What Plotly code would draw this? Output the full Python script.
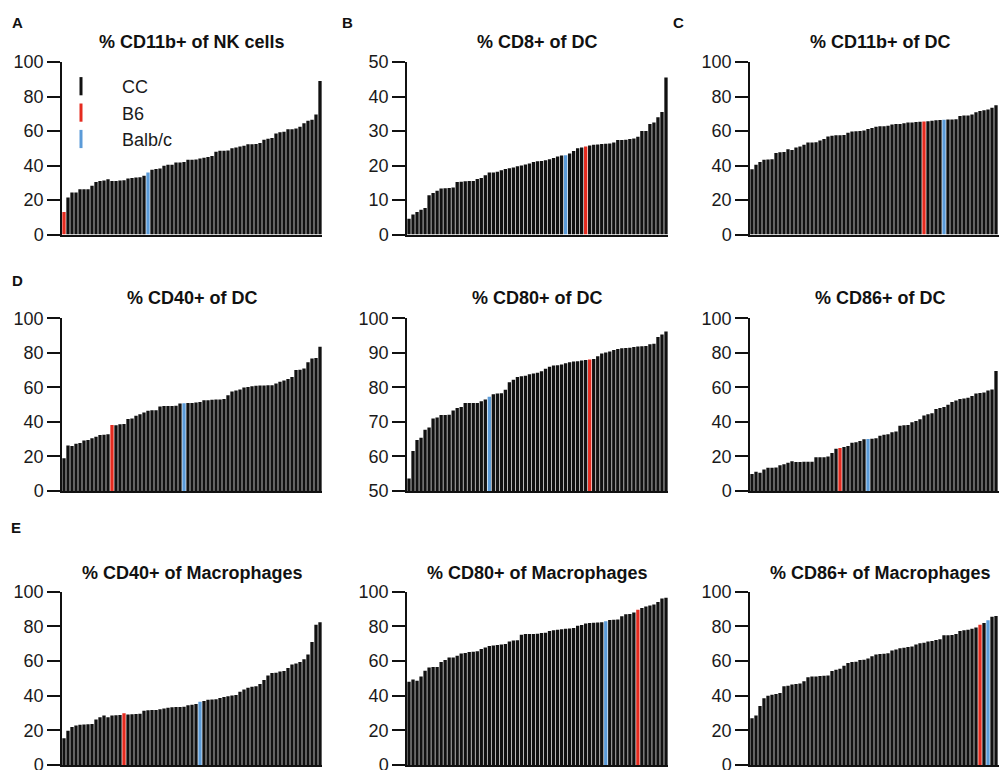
import plotly.graph_objects as go

# ---------------- data ----------------
titles = ["% CD11b+ of NK cells", "% CD8+ of DC", "% CD11b+ of DC",
          "% CD40+ of DC", "% CD80+ of DC", "% CD86+ of DC",
          "% CD40+ of Macrophages", "% CD80+ of Macrophages", "% CD86+ of Macrophages"]
panel_letters = ["A", "B", "C", "D", "", "", "E", "", ""]

cd11b_nk = [13, 21.4, 24.3, 24.3, 26.3, 26.3, 26.3, 28.2, 30.5, 31, 31.3, 32, 31, 31, 31.3, 31.5, 32.4,
            32.8, 33, 33.2, 34, 36, 37.6, 38, 38.2, 39.8, 40.5, 40.5, 41.7, 41.7, 42, 43.4, 43.4, 43.5,
            44, 44.5, 45, 45.5, 48, 48.5, 48.5, 48.7, 50, 50.5, 51, 51.5, 52.3, 52.3, 52.5, 53, 55,
            55.5, 56, 58.5, 59.3, 59.5, 61, 61, 61.5, 62.5, 64.5, 66, 66.5, 69.5, 89]
cd8_dc = [4.6, 5.8, 6.5, 7.2, 7.7, 11.4, 12, 12.7, 13.3, 13.4, 13.5, 13.6, 15.2, 15.3, 15.4, 15.5, 15.5,
          16.1, 16.4, 17.2, 18, 18, 18.2, 18.6, 19, 19.2, 19.4, 19.8, 20, 20.3, 20.6, 21, 21.2, 21.3,
          21.5, 21.8, 22.2, 22.6, 22.9, 23, 23.5, 24.2, 25, 25.2, 25.5, 25.8, 26, 26.1, 26.2, 26.3,
          26.4, 26.7, 27.4, 27.4, 27.5, 27.7, 27.8, 28.3, 30, 30, 32, 32.5, 34, 35.5, 45.5]
cd11b_dc = [37.8, 40.5, 42, 43.4, 43.5, 43.6, 47.3, 47.7, 47.8, 49.4, 49, 50.5, 51, 52, 53.3, 53.3, 53.5,
            54.5, 55.3, 56.8, 57.3, 57.6, 57.6, 57.7, 59, 59.7, 59.8, 60, 60.3, 61.2, 61.8, 62.5, 62.7,
            62.8, 63, 63.7, 64, 64.1, 64.5, 65, 65, 65.2, 65.3, 65.5, 65.6, 66, 66.2, 66.4, 66.5, 66.6,
            66.7, 66.8, 68.7, 69, 69, 69.6, 70.8, 71.6, 72, 72.5, 73.5, 75]
cd40_dc = [18.9, 26.3, 26, 27.4, 27.8, 29.2, 29.6, 30.5, 31.4, 32.4, 32.5, 32.8, 38.2, 38, 38.6, 38.8,
           41.7, 42, 43.6, 44.4, 45.5, 46.5, 46.7, 46.8, 49, 49.2, 49.2, 49.2, 49.4, 50.6, 50.8, 50.9,
           51, 51.3, 51.6, 52.5, 52.6, 52.8, 53, 53, 53.2, 55.5, 57.6, 58.2, 58.8, 60, 60.2, 60.6, 61,
           61.1, 61.1, 61.2, 61.2, 62.2, 63.2, 64, 64.8, 66, 70, 70.2, 71, 74.6, 76.7, 77, 83.5]
cd80_dc = [53.6, 61.6, 64.8, 65.4, 67.7, 68.4, 71, 71.3, 72, 72, 72.1, 73.3, 74, 74.3, 75.5, 75.5, 75.5,
           75.5, 76, 76.5, 77.3, 78, 78.2, 78.3, 79.3, 81.5, 82.2, 83, 83.2, 83.4, 83.8, 84, 84.2, 84.7,
           85.4, 86, 86.3, 86.4, 86.6, 87, 87.3, 87.5, 87.6, 87.8, 87.9, 88.1, 88.2, 89, 89.8, 90.1,
           90.4, 90.8, 91.1, 91.3, 91.4, 91.5, 91.7, 91.8, 91.9, 92, 92.5, 92.6, 94.6, 95.3, 96.2]
cd86_dc = [9.8, 11.2, 10.6, 12.5, 13.5, 13.5, 13.6, 14.9, 15.5, 16.3, 17.2, 16.8, 16.8, 16.9, 17, 17,
           19.5, 19.5, 19.6, 20, 22, 24.5, 24.9, 25.5, 26, 28, 28.3, 29, 30, 30.1, 30.3, 30.5, 32, 32.6,
           32.8, 34, 34.5, 37.8, 38, 38.2, 39.8, 40.5, 41.6, 43.7, 44.5, 45, 47.5, 48, 48.7, 50, 51.5,
           52.4, 53.2, 53.5, 54, 55, 56.4, 56.8, 57, 58.2, 58.8, 69.5]
cd40_mac = [15.4, 19.8, 21.9, 22.8, 23.2, 23.4, 23.5, 23.6, 26.3, 27.5, 28.5, 27.6, 28.5, 28.7, 28.8,
            29.8, 29.2, 29.3, 29.5, 29.6, 31.3, 31.6, 31.7, 31.8, 32.1, 32.6, 33, 33.3, 33.4, 33.4,
            33.6, 34.5, 34.8, 35.2, 36.5, 37, 37.6, 37.8, 38, 38.6, 39.2, 39.6, 40.1, 40.4, 42.3, 43.6,
            44.6, 45.2, 45.5, 46.7, 49, 51.7, 53.1, 53.3, 54, 54.3, 56, 58, 58.5, 59.5, 61, 63.7, 71,
            81, 82.3]
cd80_mac = [48, 49.4, 48.6, 51, 54.4, 56.2, 56.5, 56.6, 59.4, 60.6, 62.1, 62, 63, 64.4, 64.6, 65.2,
            65.4, 65.6, 67, 67.8, 68.7, 69, 69.2, 69.6, 69.8, 71.3, 71.8, 72, 75.2, 75.6, 75.6, 75.6,
            75.8, 76.2, 76.3, 77.3, 77.8, 78, 78.3, 78.6, 78.7, 79, 80.3, 80.8, 81.7, 82, 82.1, 82.2,
            82.4, 83, 83.6, 83.8, 84, 85.8, 87, 87.2, 88, 89.6, 90.6, 91.4, 92, 92.6, 94, 96.1, 96.5]
cd86_mac = [27, 28.5, 34, 38.5, 40, 40.5, 41, 41.5, 45.4, 45.7, 46.5, 46.8, 47, 48.3, 50.6, 51, 51,
            51.3, 51.5, 51.7, 54.2, 55, 55.5, 57.2, 58.9, 59.4, 59.6, 60.6, 60.7, 61.5, 62.8, 63.7, 64,
            64.2, 64.5, 66, 66.7, 67.3, 67.6, 68.1, 68.4, 69.6, 70.2, 70.6, 71.3, 71.6, 72.2, 72.5,
            74.8, 74.8, 75, 75.6, 77.3, 77.8, 78.1, 78.6, 79.4, 81, 82, 83.5, 85.5, 86]

values = [cd11b_nk, cd8_dc, cd11b_dc, cd40_dc, cd80_dc, cd86_dc, cd40_mac, cd80_mac, cd86_mac]
b6_index = [0, 44, 43, 12, 45, 22, 15, 57, 57]
balbc_index = [21, 39, 48, 30, 20, 29, 34, 49, 59]
y_ranges = [[0, 100], [0, 50], [0, 100], [0, 100], [50, 100], [0, 100], [0, 100], [0, 100], [0, 100]]
y_ticks = [[0, 20, 40, 60, 80, 100], [0, 10, 20, 30, 40, 50], [0, 20, 40, 60, 80, 100],
           [0, 20, 40, 60, 80, 100], [50, 60, 70, 80, 90, 100], [0, 20, 40, 60, 80, 100],
           [0, 20, 40, 60, 80, 100], [0, 20, 40, 60, 80, 100], [0, 20, 40, 60, 80, 100]]
group_names = ["CC", "B6", "Balb/c"]
group_colors = ["#111111", "#e52b1f", "#5b9bd8"]

# ---------------- layout geometry (pixels) ----------------
W, H = 999, 770
N_FULL = 65
col_px = [(62, 322), (407, 668), (750, 1010)]
row_px = [(62, 234.5), (318.3, 491), (591.7, 765)]
title_y = [42, 298, 573]
letter_pos = [(17, 22), (347, 22), (678, 22), (17, 281), None, None, (16, 527), None, None]
FONT = "Arial, Liberation Sans, Helvetica, sans-serif"

fig = go.Figure()
annotations = []
for k in range(9):
    r, c = divmod(k, 3)
    ax = "" if k == 0 else str(k + 1)
    x0, x1 = col_px[c]
    pitch = (x1 - x0) / N_FULL
    x1v = min(x1, W)
    vals = values[k]
    colors = []
    for i in range(len(vals)):
        if i == b6_index[k]:
            colors.append(group_colors[1])
        elif i == balbc_index[k]:
            colors.append(group_colors[2])
        else:
            colors.append(group_colors[0])
    fig.add_trace(go.Bar(x=list(range(len(vals))), y=vals, marker=dict(color=colors, line_width=0),
                         xaxis="x" + ax, yaxis="y" + ax, showlegend=False))
    y0, y1 = row_px[r]
    fig.layout["xaxis" + ax] = dict(domain=[x0 / W, x1v / W], range=[-0.5, -0.5 + (x1v - x0) / pitch],
                                   anchor="y" + ax, showline=True, linecolor="#111", linewidth=1.5,
                                   showticklabels=False, ticks="", showgrid=False, zeroline=False,
                                   automargin=False, fixedrange=True)
    fig.layout["yaxis" + ax] = dict(domain=[(H - y1) / H, (H - y0) / H], range=y_ranges[k],
                                   anchor="x" + ax, showline=True, linecolor="#111", linewidth=1.5,
                                   ticks="outside", ticklen=13, tickwidth=1.5, tickcolor="#111",
                                   tickvals=y_ticks[k], tickfont=dict(size=18, color="#1a1a1a", family=FONT),
                                   ticklabeloverflow="allow",
                                   showgrid=False, zeroline=False, automargin=False)
    annotations.append(dict(text="<b>" + titles[k] + "</b>", xref="paper", yref="paper",
                            x=((x0 + x1) / 2) / W, y=(H - title_y[r]) / H, xanchor="center",
                            yanchor="middle", showarrow=False,
                            font=dict(size=18, color="#111", family=FONT)))
    if letter_pos[k]:
        lx, ly = letter_pos[k]
        annotations.append(dict(text="<b>" + panel_letters[k] + "</b>", xref="paper", yref="paper",
                                x=lx / W, y=(H - ly) / H, xanchor="center", yanchor="middle",
                                showarrow=False, font=dict(size=15, color="#111", family=FONT)))

for name, col in zip(group_names, group_colors):
    fig.add_trace(go.Scatter(x=[None], y=[None], mode="markers", name=name, xaxis="x", yaxis="y",
                             marker=dict(symbol="line-ns", size=13, line=dict(width=3, color=col))))

fig.update_layout(
    width=W, height=H, margin=dict(l=0, r=0, t=0, b=0, autoexpand=False),
    paper_bgcolor="white", plot_bgcolor="white",
    bargap=0.17, annotations=annotations,
    font=dict(family=FONT, color="#111"),
    legend=dict(x=40 / W, y=(H - 68) / H, xanchor="left", yanchor="top",
                font=dict(size=18, color="#1a1a1a", family=FONT), bgcolor="rgba(0,0,0,0)",
                itemwidth=72, tracegroupgap=0),
)
fig.write_html("out.html", config={"displayModeBar": False},
               post_script="document.body.style.margin='0';document.body.style.overflow='hidden';")
